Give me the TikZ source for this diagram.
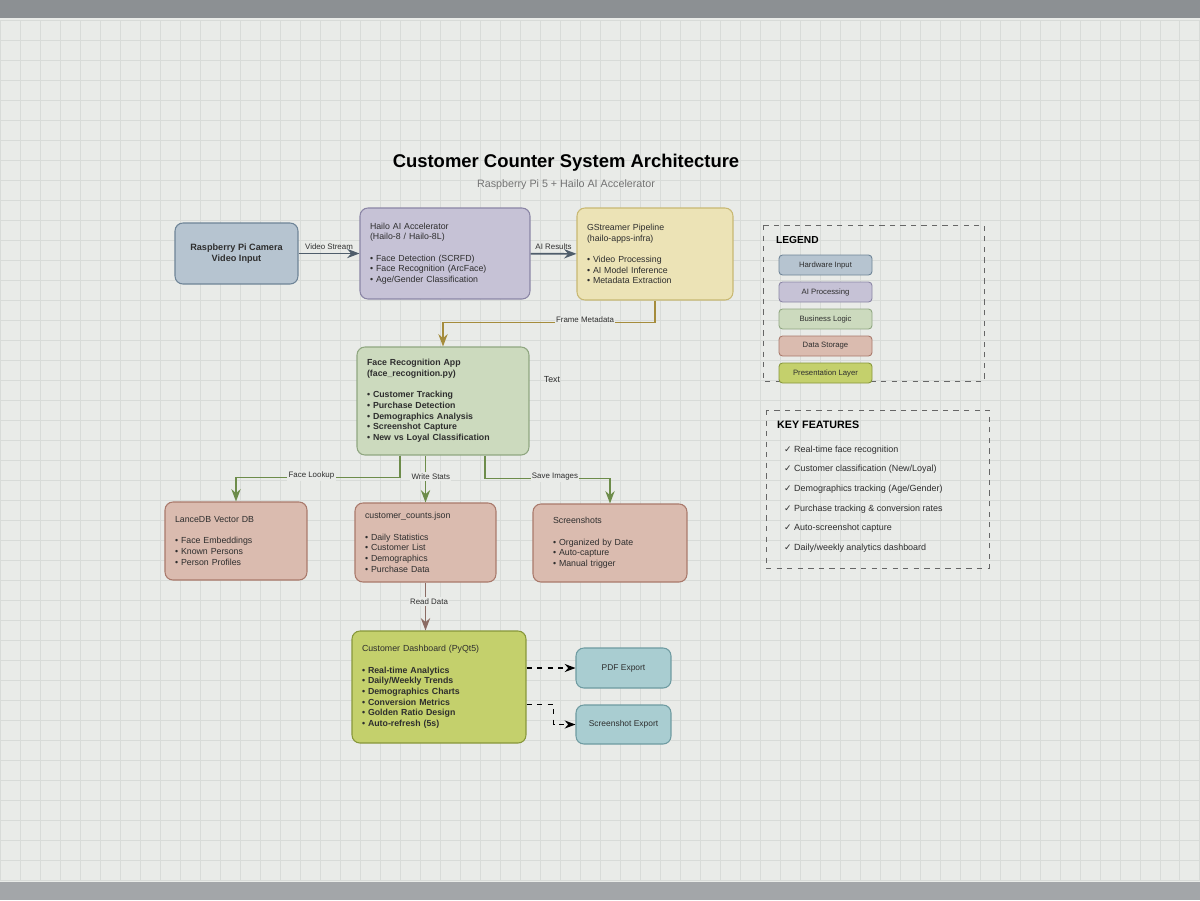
\documentclass[tikz,border=0pt]{standalone}
\usepackage{fontspec}
\setmainfont{Liberation Sans}
\newfontfamily\symfont{DejaVu Sans}
\usetikzlibrary{arrows.meta,calc,positioning}

\definecolor{bgc}{HTML}{E9EBE8}
\definecolor{gridc}{HTML}{D8DBD8}
\definecolor{framec}{HTML}{8C9093}
\definecolor{txtc}{HTML}{2E2E2E}
\definecolor{hwfill}{HTML}{B6C4D0}\definecolor{hwline}{HTML}{6E8497}
\definecolor{aifill}{HTML}{C6C2D6}\definecolor{ailine}{HTML}{8A85A5}
\definecolor{gsfill}{HTML}{ECE3B6}\definecolor{gsline}{HTML}{C8B872}
\definecolor{blfill}{HTML}{CCDABE}\definecolor{blline}{HTML}{8FA680}
\definecolor{dsfill}{HTML}{DABBAF}\definecolor{dsline}{HTML}{A9796B}
\definecolor{plfill}{HTML}{C4D06C}\definecolor{plline}{HTML}{87973A}
\definecolor{exfill}{HTML}{A9CDD1}\definecolor{exline}{HTML}{6E9BA1}
\definecolor{hwarrow}{HTML}{4F5D6B}
\definecolor{gsarrow}{HTML}{A58C3C}
\definecolor{blarrow}{HTML}{6D8C4A}
\definecolor{dsarrow}{HTML}{8B6B63}

\begin{document}
\begin{tikzpicture}[x=0.02cm, y=-0.02cm, >=Stealth,
    box/.style={draw, rounded corners=4.5pt, line width=0.6pt, inner sep=0pt,
        text=txtc, align=left, font=\fontsize{5}{6.1}\selectfont},
    legitem/.style={draw, rounded corners=2pt, line width=0.5pt, inner sep=0pt,
        minimum width=1.86cm, minimum height=0.4cm, text=txtc,
        font=\fontsize{4.4}{5}\selectfont},
    lbl/.style={font=\fontsize{4.5}{5}\selectfont, text=txtc, fill=bgc, inner sep=0.8pt},
    flow/.style={->, line width=0.9pt}
]
    \useasboundingbox (0,0) rectangle (1200,900);
    \fill[bgc] (0,0) rectangle (1200,900);
    \draw[gridc, line width=0.3pt, step=0.4cm] (0,20) grid (1200,880);
    \fill[framec] (0,0) rectangle (1200,18);
    \fill[framec!80] (0,882) rectangle (1200,900);

    \node (title) at (566,163) {\fontsize{10.5}{12}\selectfont\bfseries Customer Counter System Architecture};
    \node[text=black!55] (subtitle) at (566,185) {\fontsize{6.1}{7}\selectfont Raspberry Pi 5 + Hailo AI Accelerator};

    % top row
    \node[box, fill=hwfill, draw=hwline, minimum width=2.46cm, minimum height=1.22cm, align=center,
        font=\fontsize{5.2}{6.3}\selectfont\bfseries] (camera) at (236.5,253.5)
        {Raspberry Pi Camera\\Video Input};
    \node[box, fill=aifill, draw=ailine, minimum width=3.4cm, minimum height=1.82cm, text width=3.0cm] (hailo) at (445,253.5)
        {Hailo AI Accelerator\\(Hailo-8 / Hailo-8L)\\[6pt]
         • Face Detection (SCRFD)\\• Face Recognition (ArcFace)\\• Age/Gender Classification};
    \node[box, fill=gsfill, draw=gsline, minimum width=3.12cm, minimum height=1.84cm, text width=2.72cm] (gst) at (655,254)
        {GStreamer Pipeline\\(hailo-apps-infra)\\[6pt]
         • Video Processing\\• AI Model Inference\\• Metadata Extraction};

    % business logic
    \node[box, fill=blfill, draw=blline, minimum width=3.44cm, minimum height=2.16cm, text width=3.04cm,
        font=\fontsize{5}{6.1}\selectfont\bfseries] (app) at (443,401)
        {Face Recognition App\\(face\_recognition.py)\\[6pt]
         • Customer Tracking\\• Purchase Detection\\• Demographics Analysis\\• Screenshot Capture\\• New vs Loyal Classification};
    \node[text=txtc, font=\fontsize{5}{6}\selectfont] (freetext) at (552,380) {Text};

    % storage
    \node[box, fill=dsfill, draw=dsline, minimum width=2.84cm, minimum height=1.56cm, text width=2.44cm] (lance) at (236,541)
        {LanceDB Vector DB\\[6pt]
         • Face Embeddings\\• Known Persons\\• Person Profiles};
    \node[box, fill=dsfill, draw=dsline, minimum width=2.82cm, minimum height=1.58cm, text width=2.42cm] (json) at (425.5,542.5)
        {customer\_counts.json\\[6pt]
         • Daily Statistics\\• Customer List\\• Demographics\\• Purchase Data};
    \node[box, fill=dsfill, draw=dsline, minimum width=3.08cm, minimum height=1.56cm, text width=2.28cm] (shots) at (610,543)
        {Screenshots\\[6pt]
         • Organized by Date\\• Auto-capture\\• Manual trigger};

    % presentation
    \node[box, fill=plfill, draw=plline, minimum width=3.48cm, minimum height=2.24cm, text width=3.08cm] (dash) at (439,687)
        {Customer Dashboard (PyQt5)\\[6pt]
         \bfseries • Real-time Analytics\\\bfseries • Daily/Weekly Trends\\\bfseries • Demographics Charts\\
         \bfseries • Conversion Metrics\\\bfseries • Golden Ratio Design\\\bfseries • Auto-refresh (5s)};
    \node[box, fill=exfill, draw=exline, minimum width=1.9cm, minimum height=0.8cm, align=center,
        font=\fontsize{4.8}{5}\selectfont] (pdf) at (623.5,668) {PDF Export};
    \node[box, fill=exfill, draw=exline, minimum width=1.9cm, minimum height=0.78cm, align=center,
        font=\fontsize{4.8}{5}\selectfont] (sexport) at (623.5,724.5) {Screenshot Export};

    % connectors
    \draw[flow, hwarrow] (camera) -- (hailo) node[midway, above=1pt, lbl, fill=none] {Video Stream};
    \draw[flow, hwarrow] (hailo) -- (gst) node[midway, above=1pt, lbl, fill=none] {AI Results};
    \draw[flow, gsarrow] (gst.south) -- ++(0,22) -| (app.north) node[pos=0.165, lbl, yshift=1.5pt] {Frame Metadata};
    \draw[flow, blarrow] ($(app.south)+(-43,0)$) -- ++(0,22) -| (lance.north) node[pos=0.27, lbl, yshift=1pt] {Face Lookup};
    \draw[flow, blarrow] (app.south -| json.north) -- (json.north) node[pos=0.45, lbl, xshift=3pt] {Write Stats};
    \draw[flow, blarrow] ($(app.south)+(42,0)$) -- ++(0,23) -| (shots.north) node[pos=0.28, lbl, yshift=1pt] {Save Images};
    \draw[flow, dsarrow] (json.south) -- (json.south |- dash.north) node[pos=0.4, lbl, xshift=2pt] {Read Data};
    \draw[->, dashed, line width=0.7pt] (dash.east |- pdf.west) -- (pdf.west);
    \draw[->, dashed, line width=0.7pt] (dash.east |- sexport.north) -- ++(27,0) |- (sexport.west);

    % legend
    \draw[dashed, black!60, line width=0.5pt] (763,225) rectangle (984,381);
    \node[anchor=west, font=\fontsize{5.8}{6}\selectfont\bfseries] (legendhead) at (770,240) {LEGEND};
    \foreach \lbl/\col [count=\i] in {Hardware Input/hw, AI Processing/ai, Business Logic/bl,
        Data Storage/ds, Presentation Layer/pl}
        \node[legitem, fill=\col fill, draw=\col line] (leg\i) at (825.5,{238+27*\i}) {\lbl};

    % key features
    \draw[dashed, black!60, line width=0.5pt] (766,410) rectangle (989,568);
    \node[anchor=west, font=\fontsize{6.1}{7}\selectfont\bfseries] (feathead) at (771,425) {KEY FEATURES};
    \foreach \txt [count=\i] in {Real-time face recognition, Customer classification (New/Loyal),
        Demographics tracking (Age/Gender), Purchase tracking \& conversion rates,
        Auto-screenshot capture, Daily/weekly analytics dashboard}
        \node[anchor=west, text=txtc, font=\fontsize{5.1}{6}\selectfont] (feat\i) at (778,{430.4+19.6*\i})
            {{\symfont ✓} \txt};
\end{tikzpicture}
\end{document}
